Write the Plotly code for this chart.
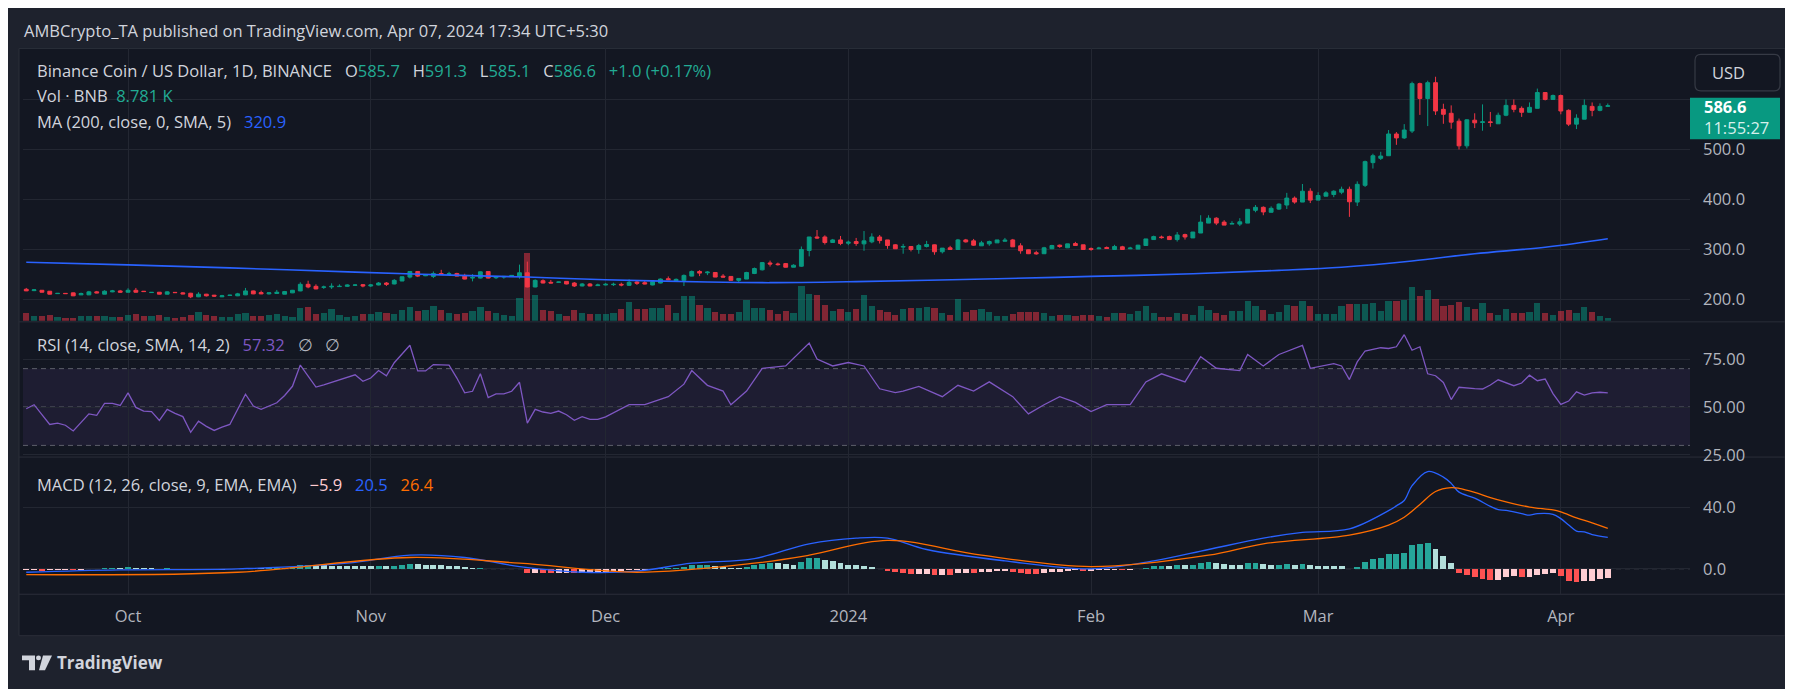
import plotly.graph_objects as go
import pandas as pd

W, H = 1793, 689


def fx(px):
    return px / W


def fy(py):
    return 1 - py / H


# ---------------- data ----------------
start_date = "2023-09-18"

opens = [219.7, 217.0, 217.7, 215.8, 211.0, 211.5, 212.5, 208.5, 208.5, 214.5,
         209.9, 214.5, 216.4, 213.8, 217.7, 215.8, 213.1, 213.8, 209.9, 213.5,
         212.5, 211.8, 204.6, 209.9, 207.9, 204.6, 207.3, 206.6, 208.5, 216.4,
         213.1, 210.5, 211.2, 209.9, 212.5, 216.4, 229.6, 225.6, 223.6, 224.3,
         225.0, 225.6, 227.6, 228.9, 226.3, 228.3, 232.2, 230.3, 236.2, 244.1,
         255.3, 246.7, 245.4, 251.3, 249.4, 251.3, 247.4, 242.1, 242.1, 255.3,
         242.8, 244.1, 246.0, 245.4, 252.7, 224.3, 236.8, 233.6, 233.6, 235.5,
         232.2, 226.3, 230.3, 227.0, 228.3, 228.9, 229.6, 227.6, 234.2, 232.9,
         228.3, 232.2, 240.8, 236.8, 237.5, 246.0, 255.3, 252.7, 253.3, 246.0,
         245.4, 237.5, 240.1, 251.3, 258.6, 272.3, 270.3, 271.0, 263.8, 265.8,
         297.4, 324.3, 324.3, 313.2, 318.4, 311.8, 315.1, 310.5, 314.5, 324.3,
         318.4, 308.6, 304.0, 305.3, 299.3, 305.3, 308.6, 294.7, 302.6, 299.3,
         318.4, 316.5, 306.6, 310.5, 312.5, 315.8, 318.4, 306.6, 298.7, 292.8,
         290.8, 300.7, 307.9, 302.6, 311.2, 308.6, 301.3, 300.7, 303.3, 299.3,
         304.6, 300.7, 300.0, 307.2, 319.1, 324.3, 325.0, 319.1, 329.0, 322.4,
         332.2, 352.0, 361.9, 354.0, 350.0, 350.0, 352.0, 377.6, 383.6, 373.7,
         380.0, 388.2, 402.0, 394.1, 415.8, 398.0, 405.9, 409.2, 413.8, 419.7,
         394.1, 427.6, 473.0, 481.6, 486.8, 530.3, 522.4, 536.2, 631.0, 601.3,
         632.9, 579.6, 571.7, 555.9, 506.6, 557.9, 553.3, 554.6, 550.7, 567.8,
         587.5, 581.6, 573.7, 581.6, 613.2, 599.4, 607.3, 577.6, 550.0, 559.9,
         585.5, 577.6, 585.7]
highs = [222.4, 220.0, 218.0, 216.0, 212.0, 212.0, 213.0, 213.0, 216.5, 216.4,
         217.7, 218.4, 218.4, 221.7, 222.4, 216.0, 214.0, 214.0, 215.8, 214.0,
         213.8, 212.5, 213.8, 210.5, 208.5, 208.5, 208.5, 212.5, 222.4, 217.0,
         217.0, 213.1, 218.4, 216.4, 218.4, 233.6, 236.8, 229.6, 227.0, 231.6,
         229.6, 229.6, 229.6, 230.3, 230.3, 234.2, 234.2, 240.1, 245.4, 256.0,
         256.0, 249.4, 255.3, 258.6, 254.6, 252.7, 250.7, 250.0, 255.3, 256.0,
         245.4, 246.0, 247.4, 269.0, 275.0, 239.5, 239.5, 238.2, 234.9, 235.5,
         234.2, 232.2, 232.2, 230.9, 232.2, 232.9, 232.9, 239.5, 236.8, 236.8,
         236.8, 241.4, 245.4, 241.4, 249.4, 257.3, 257.9, 256.0, 254.0, 250.0,
         245.4, 241.4, 254.6, 263.2, 274.3, 277.0, 273.0, 272.3, 269.7, 305.3,
         324.3, 338.2, 327.6, 320.4, 326.3, 317.1, 322.4, 336.2, 331.6, 328.3,
         318.4, 309.9, 310.5, 305.3, 310.5, 316.5, 309.2, 302.0, 306.6, 320.4,
         320.4, 320.4, 316.5, 317.1, 318.4, 322.4, 320.4, 311.8, 299.3, 296.7,
         304.6, 308.6, 309.2, 310.5, 314.5, 308.6, 303.3, 304.6, 305.3, 308.6,
         306.6, 304.6, 308.6, 320.4, 327.0, 327.0, 327.0, 334.2, 330.9, 334.2,
         367.8, 367.8, 363.8, 357.9, 355.9, 361.9, 379.6, 388.2, 385.5, 385.5,
         391.6, 412.5, 405.4, 430.3, 421.7, 413.8, 415.8, 417.8, 425.0, 425.0,
         435.5, 477.0, 490.8, 494.7, 538.2, 534.2, 550.0, 634.9, 632.9, 636.9,
         644.8, 590.8, 587.5, 561.2, 559.9, 571.7, 589.5, 574.4, 573.0, 599.4,
         599.4, 585.5, 593.4, 621.1, 613.2, 609.2, 609.2, 579.6, 569.7, 599.4,
         593.4, 591.5, 591.3]
lows = [216.0, 216.0, 213.5, 209.5, 210.5, 210.5, 206.0, 208.0, 208.0, 211.8,
        209.9, 213.8, 212.5, 213.1, 213.1, 214.5, 212.8, 209.5, 209.5, 212.5,
        209.9, 202.0, 204.0, 205.3, 204.6, 204.0, 206.6, 206.0, 208.0, 209.9,
        209.9, 209.2, 210.5, 209.9, 212.0, 215.8, 221.7, 219.7, 220.4, 220.4,
        224.3, 224.3, 226.3, 223.6, 224.3, 227.6, 226.3, 229.6, 236.2, 241.4,
        244.1, 246.0, 242.1, 248.7, 247.4, 245.4, 239.5, 235.5, 241.4, 241.4,
        240.1, 240.8, 245.4, 240.8, 223.6, 223.6, 231.6, 231.6, 233.0, 229.6,
        224.3, 225.6, 225.6, 226.3, 227.6, 226.3, 225.6, 226.3, 228.3, 229.6,
        227.6, 231.6, 238.2, 236.2, 226.3, 245.4, 246.0, 248.0, 244.1, 243.4,
        237.5, 234.2, 240.1, 250.0, 257.3, 265.1, 267.1, 263.2, 263.8, 264.5,
        285.5, 320.4, 309.2, 313.2, 307.9, 307.9, 306.6, 296.7, 311.8, 311.2,
        300.7, 300.7, 290.8, 295.4, 290.8, 303.3, 288.8, 291.4, 299.3, 299.3,
        313.2, 306.6, 306.6, 306.6, 312.5, 315.1, 304.6, 290.8, 290.1, 288.8,
        290.1, 300.0, 302.6, 302.6, 307.2, 299.3, 296.7, 300.0, 300.7, 299.3,
        299.3, 300.0, 300.0, 307.2, 318.4, 321.1, 318.4, 315.1, 319.1, 322.4,
        332.2, 352.0, 348.0, 348.0, 350.0, 346.1, 352.0, 373.7, 367.8, 373.0,
        378.3, 380.3, 390.8, 394.1, 392.1, 398.0, 405.9, 403.9, 409.9, 364.5,
        386.2, 424.3, 461.2, 478.3, 486.8, 508.6, 520.4, 532.2, 568.4, 546.1,
        568.4, 550.7, 540.8, 499.3, 501.3, 542.1, 536.8, 544.7, 550.7, 565.8,
        573.7, 564.5, 573.7, 581.6, 597.4, 599.4, 569.7, 546.1, 540.1, 559.9,
        565.8, 575.7, 585.1]
closes = [216.5, 218.5, 213.8, 209.9, 211.5, 211.0, 206.6, 211.2, 214.5, 212.5,
          215.8, 216.4, 213.8, 217.7, 213.8, 215.1, 213.5, 209.9, 214.5, 213.0,
          210.5, 204.6, 209.9, 206.6, 206.0, 206.6, 207.9, 210.5, 216.4, 210.5,
          210.5, 212.5, 213.8, 215.1, 217.7, 229.6, 224.3, 220.4, 224.3, 225.6,
          225.6, 228.3, 228.3, 226.3, 228.3, 232.2, 229.6, 237.5, 244.7, 255.3,
          246.0, 248.7, 251.3, 249.4, 250.7, 246.0, 240.1, 243.4, 254.6, 242.1,
          244.7, 245.4, 247.4, 252.7, 224.3, 237.5, 232.2, 232.2, 234.2, 230.3,
          226.3, 230.3, 226.3, 228.3, 229.6, 229.6, 228.3, 233.6, 231.6, 230.3,
          234.9, 240.1, 238.8, 239.5, 247.4, 255.3, 252.0, 254.0, 244.1, 244.1,
          237.5, 241.4, 253.3, 261.2, 273.0, 270.3, 269.0, 263.8, 267.8, 299.3,
          324.3, 322.4, 313.2, 318.4, 311.2, 313.8, 311.2, 316.5, 324.3, 317.1,
          307.2, 300.7, 305.3, 299.3, 307.2, 309.2, 294.7, 302.0, 299.3, 318.4,
          314.5, 307.9, 312.5, 315.1, 318.4, 317.8, 304.6, 296.7, 290.8, 290.8,
          302.6, 307.2, 305.3, 310.5, 307.2, 299.3, 299.3, 302.0, 301.3, 305.3,
          299.3, 302.0, 307.9, 320.4, 325.0, 323.0, 319.1, 328.3, 324.3, 334.2,
          354.0, 361.9, 352.0, 348.0, 351.3, 354.6, 379.6, 383.6, 374.4, 381.6,
          390.0, 402.0, 394.1, 415.8, 398.0, 407.2, 412.5, 415.8, 419.7, 394.7,
          429.6, 475.0, 486.8, 486.2, 530.3, 522.4, 538.2, 631.0, 601.3, 632.9,
          576.3, 569.7, 554.0, 506.6, 558.6, 552.6, 554.6, 553.3, 567.8, 587.5,
          579.6, 573.7, 583.6, 613.2, 599.4, 607.3, 576.3, 550.0, 561.9, 587.5,
          577.6, 585.5, 586.6]
volumes_k = [24, 15, 15, 18, 12, 9, 9, 15, 15, 15,
             15, 12, 12, 18, 21, 15, 15, 18, 12, 9,
             12, 18, 27, 18, 15, 12, 12, 21, 24, 15,
             15, 18, 21, 15, 12, 39, 42, 21, 24, 36,
             18, 12, 15, 21, 21, 27, 24, 21, 33, 42,
             30, 33, 45, 33, 24, 21, 24, 30, 42, 30,
             24, 18, 15, 69, 207, 78, 33, 30, 21, 15,
             33, 24, 21, 21, 21, 24, 36, 57, 36, 36,
             39, 39, 48, 24, 75, 75, 48, 39, 27, 21,
             21, 27, 63, 39, 39, 33, 21, 30, 24, 105,
             81, 78, 48, 30, 36, 27, 36, 78, 45, 33,
             27, 18, 36, 39, 39, 42, 39, 24, 18, 66,
             27, 33, 36, 27, 15, 15, 21, 27, 27, 27,
             24, 15, 18, 18, 15, 18, 18, 15, 12, 24,
             24, 21, 30, 45, 24, 12, 12, 24, 21, 18,
             45, 33, 24, 18, 30, 30, 60, 45, 33, 21,
             27, 48, 45, 60, 45, 21, 21, 21, 45, 51,
             51, 51, 54, 30, 60, 60, 63, 102, 75, 93,
             66, 45, 48, 57, 42, 36, 54, 24, 18, 36,
             24, 24, 27, 54, 24, 18, 30, 33, 24, 42,
             27, 15, 9]

# 200-day moving average, read at a few days (index from start_date)
ma_day = [0, 13, 26, 42, 53, 64, 74, 87, 95, 106, 124, 136, 149, 160, 168, 177, 185, 194, 202]
ma_val = [273.7, 268.4, 262.5, 253.9, 248.5, 244.1, 238.8, 234.2, 232.9, 235.0,
          240.8, 245.4, 250.7, 257.5, 263.8, 276.3, 290.8, 303.9, 320.9]

# RSI line vertices (day index, value)
rsi_day = list(range(0, 27)) + list(range(28, 36)) + list(range(37, 48)) + list(range(49, 75)) + [
    77, 79, 82, 84, 85, 87, 89, 90, 92, 94, 97, 100, 101, 103, 105, 107, 109, 111, 112, 114, 117,
    119, 121, 123, 126, 128, 130, 132, 134, 136, 138, 141, 143, 145, 148, 150, 152, 155, 156, 158, 160,
    163, 164, 167, 168, 169, 170, 171, 173] + list(range(174, 203))
rsi_val = [49.1, 51.2, 46.0, 40.9, 41.6, 40.5, 37.5, 41.9, 46.4, 45.7,
           51.9, 51.9, 50.8, 57.4, 49.8, 47.9, 47.6, 43.0, 48.8, 46.7,
           45.0, 36.8, 42.6, 39.9, 37.8, 39.5, 40.9,
           56.7, 50.5, 48.8, 50.5, 52.2, 56.0, 60.8, 71.9,
           60.4, 61.6, 62.9, 64.2, 65.6, 66.8, 63.4, 65.1, 69.0, 66.3, 73.1,
           82.2, 68.8, 68.8, 72.1, 71.8, 71.8, 65.1, 57.4, 58.2, 67.3,
           54.9, 56.8, 56.8, 58.2, 62.9, 41.6, 48.8, 47.4, 46.7, 47.9,
           46.0, 43.1, 45.0, 43.6, 43.6, 44.9,
           51.2, 51.2, 55.4, 61.9, 69.0, 61.3, 58.3, 51.2, 58.3, 70.2,
           71.4, 83.3, 75.0, 71.4, 73.2, 71.4, 59.5, 57.5, 58.3, 60.7, 55.4,
           61.3, 58.3, 63.1, 55.4, 46.4, 51.2, 55.4, 52.4, 47.6, 51.2,
           51.2, 63.1, 67.3, 63.1, 76.2, 70.2, 69.0, 77.4, 71.4, 77.4,
           82.1, 70.2, 72.6, 71.4, 64.3, 73.5, 79.2, 80.9,
           80.5, 81.4, 87.7, 79.6, 81.4, 67.3, 66.3, 62.8, 53.9, 60.3,
           59.8, 59.6, 59.4, 61.5, 64.2, 62.5, 61.1, 62.5, 66.6, 63.7,
           64.6, 57.0, 51.4, 53.1, 57.9, 56.2, 57.4, 57.7, 57.32]

# MACD line and signal line vertices
macd_day = [0, 12, 27, 41, 49, 56, 63, 71, 78, 85, 93, 100, 106, 110, 115, 125, 136, 144, 151, 158,
            163, 169, 174, 175, 176, 177, 179, 181, 182, 183, 185, 187, 188, 189, 191, 192, 193, 195,
            196, 197, 198, 199, 200, 202]
macd_val = [-2.2, -0.7, 0.0, 3.7, 8.9, 7.4, 1.5, -2.2, -1.5, 3.7, 6.7, 16.3, 20.0, 20.0, 12.6, 5.2,
            0.0, 5.2, 12.6, 20.0, 23.7, 26.0, 37.9, 41.0, 44.5, 54.1, 63.3, 59.7, 55.6, 49.9, 46.0,
            40.6, 38.5, 38.1, 35.9, 34.9, 35.9, 35.5, 32.7, 28.5, 24.6, 24.0, 22.3, 20.5]
signal_day = [0, 27, 49, 63, 78, 93, 100, 110, 122, 136, 151, 158, 169, 174, 176, 178, 180, 182, 183,
              185, 187, 189, 192, 195, 196, 198, 200, 202]
signal_val = [-3.7, -2.2, 7.4, 3.7, -2.2, 3.7, 8.9, 18.5, 8.9, 1.5, 8.9, 16.3, 22.0, 28.5, 33.6, 41.9,
              50.3, 52.8, 52.4, 49.8, 46.4, 43.6, 40.2, 38.3, 37.0, 33.2, 29.9, 26.4]

# MACD histogram, one bar per day
hist = [-1.0, -0.8, -1.2, -1.0, -0.8, -0.6, -0.8, -0.5, -0.2, 0.2,
        0.5, 0.8, 0.6, 1.0, 0.8, 0.7, 0.5, 0.2, 0.3, 0.2,
        -0.2, -0.6, -0.4, -0.6, -0.7, -0.6, -0.4, 0.0, 0.5, 0.4,
        0.3, 0.4, 0.6, 0.8, 1.2, 2.2, 2.4, 2.2, 2.2, 2.1,
        2.0, 1.9, 1.9, 1.7, 1.6, 1.7, 1.6, 2.0, 2.5, 3.2,
        2.9, 2.7, 2.6, 2.3, 2.0, 1.6, 0.9, 0.5, 0.8, 0.2,
        -0.1, -0.3, -0.4, -0.2, -2.5, -2.5, -2.8, -2.9, -2.8, -2.8,
        -3.0, -2.8, -2.7, -2.5, -2.1, -1.7, -1.4, -0.9, -0.7, -0.6,
        -0.3, 0.3, 0.5, 0.6, 1.4, 2.4, 2.5, 2.6, 1.9, 1.4,
        0.6, 0.5, 1.2, 2.2, 3.3, 3.6, 3.6, 3.0, 2.7, 4.7,
        6.8, 7.0, 5.8, 5.0, 3.6, 2.8, 2.2, 1.8, 1.3, 0.2,
        -1.2, -2.3, -2.8, -3.6, -3.4, -3.3, -4.2, -3.8, -3.9, -2.7,
        -2.5, -2.7, -2.3, -2.0, -1.6, -1.3, -1.8, -2.5, -3.2, -3.4,
        -2.8, -2.1, -1.8, -1.2, -1.0, -1.2, -1.2, -1.0, -0.9, -0.6,
        -0.7, -0.5, -0.1, 0.8, 1.6, 1.9, 1.8, 2.3, 2.2, 2.7,
        4.0, 4.6, 4.0, 3.2, 2.6, 2.4, 3.6, 3.9, 2.9, 2.5,
        2.6, 3.0, 2.6, 3.2, 2.3, 2.0, 1.8, 1.6, 1.6, 0.1,
        1.2, 4.2, 6.3, 7.3, 9.6, 9.7, 10.3, 15.6, 16.3, 16.9,
        13.0, 8.6, 3.9, -2.6, -4.3, -5.6, -6.8, -7.3, -7.2, -5.1,
        -4.9, -5.4, -5.2, -3.7, -3.5, -2.8, -4.7, -7.9, -8.6, -8.0,
        -7.6, -6.6, -5.9]

month_ticks = ["2023-10-01", "2023-11-01", "2023-12-01", "2024-01-01",
               "2024-02-01", "2024-03-01", "2024-04-01"]
month_labels = ["Oct", "Nov", "Dec", "2024", "Feb", "Mar", "Apr"]

price_ticks = [200, 300, 400, 500, 600]
price_labels = ["200.0", "300.0", "400.0", "500.0", ""]
rsi_ticks = [25, 50, 75]
rsi_labels = ["25.00", "50.00", "75.00"]
macd_ticks = [0, 40]
macd_labels = ["0.0", "40.0"]

# ---------------- styling ----------------
UP = "#089981"
DOWN = "#F23645"
BG = "#131722"
OUTER = "#1e222d"
GRID = "#232732"
TXT = "#d1d4dc"
AX = "#b2b5be"
FONT = "Open Sans"
FS = 16.5

dates = pd.date_range(start_date, periods=len(closes), freq="D")
vol_colors = ["rgba(8,153,129,0.5)" if c >= o else "rgba(242,54,69,0.5)"
              for o, c in zip(opens, closes)]

hist_colors = []
for k, h in enumerate(hist):
    prev = hist[k - 1] if k > 0 else h
    if h >= 0:
        hist_colors.append("#26A69A" if h > prev else "#B2DFDB")
    else:
        hist_colors.append("#FF5252" if h < prev else "#FFCDD2")

fig = go.Figure()

fig.add_trace(go.Bar(x=dates, y=volumes_k, marker=dict(color=vol_colors, line=dict(width=0)),
                     width=0.8 * 86400000, xaxis="x", yaxis="y", hoverinfo="skip"))
fig.add_trace(go.Candlestick(
    x=dates, open=opens, high=highs, low=lows, close=closes,
    increasing=dict(line=dict(color=UP, width=1), fillcolor=UP),
    decreasing=dict(line=dict(color=DOWN, width=1), fillcolor=DOWN),
    whiskerwidth=0, xaxis="x", yaxis="y5", hoverinfo="skip"))
fig.add_trace(go.Scatter(x=[dates[i] for i in ma_day], y=ma_val, mode="lines",
                         line=dict(color="#2962FF", width=1.6, shape="spline"),
                         xaxis="x", yaxis="y5", hoverinfo="skip"))
fig.add_trace(go.Scatter(x=[dates[i] for i in rsi_day], y=rsi_val, mode="lines",
                         line=dict(color="#7E57C2", width=1.3),
                         xaxis="x2", yaxis="y3", hoverinfo="skip"))
fig.add_trace(go.Bar(x=dates, y=hist, marker=dict(color=hist_colors, line=dict(width=0)),
                     width=0.75 * 86400000, xaxis="x3", yaxis="y4", hoverinfo="skip"))
fig.add_trace(go.Scatter(x=[dates[i] for i in macd_day], y=macd_val, mode="lines",
                         line=dict(color="#2962FF", width=1.3, shape="spline"),
                         xaxis="x3", yaxis="y4", hoverinfo="skip"))
fig.add_trace(go.Scatter(x=[dates[i] for i in signal_day], y=signal_val, mode="lines",
                         line=dict(color="#FF6D00", width=1.3, shape="spline"),
                         xaxis="x3", yaxis="y4", hoverinfo="skip"))

x_range = ["2023-09-17 14:00", "2024-04-17 12:00"]
x_dom = [fx(15), fx(1682)]


def xax(show_labels, anchor):
    return dict(type="date", domain=x_dom, range=x_range, anchor=anchor,
                tickvals=month_ticks, ticktext=month_labels, showticklabels=show_labels,
                showgrid=True, gridcolor=GRID, gridwidth=1, zeroline=False,
                showline=False, ticks="", tickfont=dict(family=FONT, size=FS, color=AX),
                ticklabelstandoff=10, fixedrange=True, rangeslider=dict(visible=False))


def price_y(py):
    return 500 + (143 - py) * 1.974


def rsi_y(py):
    return 50 + (404.3 - py) / 1.944


def macd_y(py):
    return (568.3 - py) / 1.558


yfont = dict(family=FONT, size=FS, color=AX)

fig.update_layout(
    width=W, height=H, margin=dict(l=0, r=0, t=0, b=0),
    paper_bgcolor=OUTER, plot_bgcolor=BG, showlegend=False,
    xaxis=xax(False, "y"),
    xaxis2=dict(xax(False, "y3"), matches="x"),
    xaxis3=dict(xax(True, "y4"), matches="x"),
    yaxis=dict(domain=[fy(317), fy(41)], range=[0, 830], visible=False, fixedrange=True),
    yaxis5=dict(overlaying="y", anchor="x", side="right", range=[price_y(317), price_y(41)],
                tickvals=price_ticks, ticktext=price_labels, showgrid=True, gridcolor=GRID,
                zeroline=False, ticks="", tickfont=yfont, ticklabelstandoff=12, fixedrange=True),
    yaxis3=dict(domain=[fy(455), fy(319)], anchor="x2", side="right",
                range=[rsi_y(455), rsi_y(319)], tickvals=rsi_ticks, ticktext=rsi_labels,
                showgrid=True, gridcolor=GRID, zeroline=False, ticks="", tickfont=yfont,
                ticklabelstandoff=12, fixedrange=True),
    yaxis4=dict(domain=[fy(594), fy(456)], anchor="x3", side="right",
                range=[macd_y(594), macd_y(456)], tickvals=macd_ticks, ticktext=macd_labels,
                showgrid=True, gridcolor=GRID, zeroline=False, ticks="", tickfont=yfont,
                ticklabelstandoff=12, fixedrange=True),
    bargap=0,
)

shapes = []
# chart panel
shapes.append(dict(type="rect", xref="paper", yref="paper", x0=fx(11), x1=fx(1777), y0=fy(636), y1=fy(41),
                   fillcolor=BG, line=dict(color="#2a2e39", width=1), layer="below"))
# pane separators
for yy in (318, 455, 594):
    shapes.append(dict(type="line", xref="paper", yref="paper", x0=fx(11), x1=fx(1777), y0=fy(yy), y1=fy(yy),
                       line=dict(color="#2a2e39", width=1), layer="below"))
# RSI band and dashed levels
shapes.append(dict(type="rect", xref="paper", yref="y3", x0=fx(15), x1=fx(1682), y0=30, y1=70,
                   fillcolor="rgba(126,87,194,0.10)", line=dict(width=0), layer="below"))
for lvl in (70, 50, 30):
    shapes.append(dict(type="line", xref="paper", yref="y3", x0=fx(15), x1=fx(1682), y0=lvl, y1=lvl,
                       line=dict(color="#5d606b", width=1, dash="5px,4px"), layer="below"))
shapes.append(dict(type="line", xref="paper", yref="y4", x0=fx(15), x1=fx(1682), y0=0, y1=0,
                   line=dict(color="#3a3e4a", width=1, dash="5px,4px"), layer="below"))


def rounded_rect(x0, y0, x1, y1, r):
    return (f"M {fx(x0 + r)},{fy(y0)} L {fx(x1 - r)},{fy(y0)} Q {fx(x1)},{fy(y0)} {fx(x1)},{fy(y0 + r)} "
            f"L {fx(x1)},{fy(y1 - r)} Q {fx(x1)},{fy(y1)} {fx(x1 - r)},{fy(y1)} "
            f"L {fx(x0 + r)},{fy(y1)} Q {fx(x0)},{fy(y1)} {fx(x0)},{fy(y1 - r)} "
            f"L {fx(x0)},{fy(y0 + r)} Q {fx(x0)},{fy(y0)} {fx(x0 + r)},{fy(y0)} Z")


# USD button
shapes.append(dict(type="path", xref="paper", yref="paper", path=rounded_rect(1687, 47, 1772, 84, 6),
                   fillcolor=BG, line=dict(color="#363a45", width=1.2)))
# last price label
shapes.append(dict(type="rect", xref="paper", yref="paper", x0=fx(1682), x1=fx(1772), y0=fy(133), y1=fy(91),
                   fillcolor=UP, line=dict(width=0)))
# TradingView logo glyph
shapes += [
    dict(type="path", xref="paper", yref="paper",
         path=f"M {fx(14)},{fy(656)} L {fx(27)},{fy(656)} L {fx(27)},{fy(671)} L {fx(21)},{fy(671)} "
              f"L {fx(21)},{fy(661)} L {fx(14)},{fy(661)} Z",
         fillcolor=TXT, line=dict(width=0)),
    dict(type="circle", xref="paper", yref="paper", x0=fx(28), x1=fx(33), y0=fy(661), y1=fy(656),
         fillcolor=TXT, line=dict(width=0)),
    dict(type="path", xref="paper", yref="paper",
         path=f"M {fx(35)},{fy(656)} L {fx(44)},{fy(656)} L {fx(37)},{fy(671)} L {fx(31)},{fy(671)} Z",
         fillcolor=TXT, line=dict(width=0)),
]
fig.update_layout(shapes=shapes)

ann = []


def text(x, y, s, size=FS, color=TXT, anchor="left"):
    ann.append(dict(x=fx(x), y=fy(y), xref="paper", yref="paper", text=s, showarrow=False,
                    xanchor=anchor, yanchor="middle", font=dict(family=FONT, size=size, color=color)))


def sp(s, c):
    return f"<span style='color:{c}'>{s}</span>"


G2 = "\u00a0\u00a0"
G3 = "\u00a0\u00a0\u00a0"
TEAL = "#22ab94"
text(14, 23, "AMBCrypto_TA published on TradingView.com, Apr 07, 2024 17:34 UTC+5:30")
text(27, 63, "Binance Coin / US Dollar, 1D, BINANCE" + G3 + "O" + sp("585.7", TEAL) + G3 + "H" + sp("591.3", TEAL)
     + G3 + "L" + sp("585.1", TEAL) + G3 + "C" + sp("586.6", TEAL) + G3 + sp("+1.0 (+0.17%)", TEAL))
text(27, 89, "Vol · BNB" + G2 + sp("8.781 K", TEAL))
text(27, 115, "MA (200, close, 0, SMA, 5)" + G3 + sp("320.9", "#2962FF"))
text(27, 341, "RSI (14, close, SMA, 14, 2)" + G3 + sp("57.32", "#7E57C2") + G3 + sp("∅" + G3 + "∅", AX))
text(27, 483, "MACD (12, 26, close, 9, EMA, EMA)" + G3 + sp("−5.9", "#FFCDD2") + G3
     + sp("20.5", "#2962FF") + G3 + sp("26.4", "#FF6D00"))
text(1702, 65, "USD", size=FS, color=TXT)
text(1694, 100, "<b>586.6</b>", size=FS, color="#ffffff")
text(1694, 121, "11:55:27", size=FS, color="#d7f0ec")
text(47, 663, "<b>TradingView</b>", size=17, color=TXT)
fig.update_layout(annotations=ann)

fig.write_html("out.html", config={"displayModeBar": False, "staticPlot": True})
